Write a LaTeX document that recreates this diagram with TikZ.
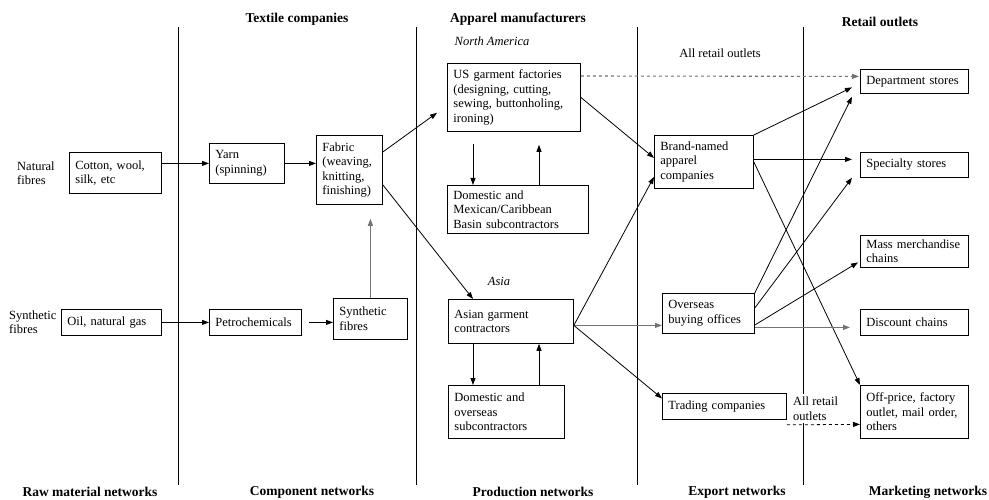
\documentclass[tikz,border=0pt]{standalone}
\usepackage{fontspec}
\setmainfont{Liberation Serif}
\usetikzlibrary{arrows.meta,calc}
\newcommand\boxfont{\fontsize{12.5}{14.5}\selectfont}
\newcommand\headfont{\fontsize{13.5}{15}\selectfont\bfseries}
\tikzset{
  box/.style={draw, line width=0.8pt, anchor=north west, inner xsep=6pt,
    inner ysep=2pt, align=left, font=\boxfont},
  lbl/.style={font=\boxfont, inner sep=1pt, align=left},
  head/.style={font=\headfont, inner sep=1pt},
  divider/.style={line width=0.8pt},
  arr/.style={line width=0.8pt, -{Triangle[length=7pt,width=5pt]}},
  garr/.style={arr, draw=black!55, line width=1.1pt},
}
\begin{document}
\begin{tikzpicture}[x=1pt,y=-1pt]
\useasboundingbox (0,0) rectangle (989,500);
\fill[white] (0,0) rectangle (989,500);

% column dividers
\draw[divider] (178,27) -- (178,485);
\draw[divider] (416,27) -- (416,485);
\draw[divider] (637,27) -- (637,485);
\draw[divider] (803,27) -- (803,485);

% column headings
\node[head] (hTextile) at (297,19) {Textile companies};
\node[head] (hApparel) at (518,19) {Apparel manufacturers};
\node[head] (hRetail) at (880,22) {Retail outlets};
\node[lbl, font=\boxfont\itshape] (hNA) at (492,41) {North America};
\node[lbl] (hAll) at (720,53) {All retail outlets};
\node[lbl, font=\boxfont\itshape] (hAsia) at (499,281) {Asia};

% network names
\node[head] (fRaw) at (90,492) {Raw material networks};
\node[head] (fComp) at (312,492) {Component networks};
\node[head] (fProd) at (533,492) {Production networks};
\node[head] (fExp) at (737,492) {Export networks};
\node[head] (fMark) at (928,492) {Marketing networks};

% row labels
\node[lbl, anchor=west] (natlbl) at (16,173) {Natural\\fibres};
\node[lbl, anchor=west] (synlbl) at (8,322) {Synthetic\\fibres};

% boxes
\node[box, minimum width=92pt, minimum height=41pt, text width=80pt] (cotton) at (69,152) {Cotton, wool,\\silk, etc};
\node[box, minimum width=75pt, minimum height=40pt, text width=63pt] (yarn) at (209,143) {Yarn\\(spinning)};
\node[box, minimum width=66pt, minimum height=69pt, text width=54pt] (fabric) at (316,135) {Fabric\\(weaving,\\knitting,\\finishing)};
\node[box, minimum width=133pt, minimum height=68pt, text width=121pt] (us) at (447,63) {US garment factories\\(designing, cutting,\\sewing, buttonholing,\\ironing)};
\node[box, minimum width=141pt, minimum height=48pt, text width=129pt] (dommex) at (447,185) {Domestic and\\Mexican/Caribbean\\Basin subcontractors};
\node[box, minimum width=99pt, minimum height=53pt, text width=87pt] (brand) at (654,135) {Brand-named\\apparel\\companies};
\node[box, minimum width=108pt, minimum height=24pt, text width=96pt] (dept) at (860,69) {Department stores};
\node[box, minimum width=108pt, minimum height=25pt, text width=96pt] (spec) at (860,152) {Specialty stores};
\node[box, minimum width=108pt, minimum height=32pt, text width=96pt] (mass) at (860,235) {Mass merchandise\\chains};
\node[box, minimum width=100pt, minimum height=26pt, text width=88pt] (oil) at (61,309) {Oil, natural gas};
\node[box, minimum width=92pt, minimum height=26pt, text width=80pt] (petro) at (209,309) {Petrochemicals};
\node[box, minimum width=74pt, minimum height=41pt, text width=62pt] (synth) at (333,298) {Synthetic\\fibres};
\node[box, minimum width=125pt, minimum height=44pt, text width=113pt] (asian) at (448,299) {Asian garment\\contractors};
\node[box, minimum width=116pt, minimum height=53pt, text width=104pt] (domov) at (448,385) {Domestic and\\overseas\\subcontractors};
\node[box, minimum width=92pt, minimum height=40pt, text width=80pt] (ovs) at (662,293) {Overseas\\buying offices};
\node[box, minimum width=124pt, minimum height=26pt, text width=112pt] (trading) at (662,393) {Trading companies};
\node[box, minimum width=108pt, minimum height=26pt, text width=96pt] (disc) at (860,309) {Discount chains};
\node[box, minimum width=108pt, minimum height=53pt, text width=96pt] (off) at (860,385) {Off-price, factory\\outlet, mail order,\\others};

% label over the last divider
\node[lbl, fill=white, anchor=north west, inner ysep=3pt] (allret) at (792,394) {All retail\\outlets};

% raw materials and components
\draw[arr] (cotton.east |- yarn.west) -- (yarn.west);
\draw[arr] (yarn.east) -- (yarn.east -| fabric.west);
\draw[arr] (oil.east) -- (petro.west);
\draw[arr] ([xshift=7pt]petro.east) -- (synth.west |- petro.east);
\draw[garr] (synth.north) -- ($(synth.north |- fabric.south)+(0,14)$);

% fabric to garment makers
\draw[arr] ([yshift=-17pt]fabric.north east) -- ([xshift=-10pt,yshift=19pt]us.south west);
\draw[arr] ([yshift=20pt]fabric.south east) -- ([xshift=25pt]asian.north west);

% subcontracting loops
\draw[arr] ([xshift=26pt,yshift=-12pt]us.south west) -- ([xshift=26pt]dommex.north west);
\draw[arr] ([xshift=92pt]dommex.north west) -- ([xshift=92pt,yshift=-13pt]us.south west);
\draw[arr] ([xshift=25pt]asian.south west) -- ([xshift=25pt]domov.north west);
\draw[arr] ([xshift=91pt]domov.north west) -- ([xshift=91pt]asian.south west);

% garment makers to exporters
\draw[garr, dashed] ([yshift=-13pt]us.north east) -- ([xshift=-1pt,yshift=5pt]dept.west);
\draw[arr] (us.east) -- ([yshift=4pt]brand.west);
\draw[arr] ([yshift=-4pt]asian.east) -- ([yshift=-15pt]brand.west);
\draw[garr] ([yshift=-4pt]asian.east) -- ([yshift=-12pt]ovs.west);
\draw[arr] ([yshift=-4pt]asian.east) -- ([yshift=8pt]trading.west);

% exporters to retail outlets
\draw[arr] (brand.north east) -- ([xshift=-8pt,yshift=-6pt]dept.west);
\draw[arr] ([yshift=2.5pt]brand.east) -- ([xshift=-8pt,yshift=5.5pt]spec.west);
\draw[arr] (brand.east) -- (off.north west);
\draw[arr] (ovs.north east) -- ([xshift=-8pt,yshift=-3pt]dept.south west);
\draw[arr] ([yshift=-15pt]ovs.north east) -- ([xshift=-8pt]spec.south west);
\draw[arr] ([yshift=-32pt]ovs.north east) -- ([xshift=-2pt,yshift=-11pt]mass.west);
\draw[garr] ([yshift=-14pt]ovs.east) -- ([xshift=-10pt,yshift=-5pt]disc.west);
\draw[arr, dashed] ([yshift=-5pt]trading.south east) -- ([yshift=-12.5pt]off.west);
\end{tikzpicture}
\end{document}
